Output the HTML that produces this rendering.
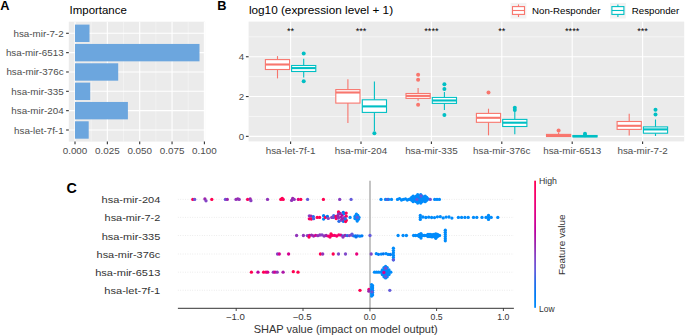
<!DOCTYPE html>
<html><head><meta charset="utf-8"><style>
html,body{margin:0;padding:0;background:#fff;width:685px;height:335px;overflow:hidden}
svg{display:block}
text{font-family:"Liberation Sans",sans-serif}
</style></head><body>
<svg width="685" height="335" viewBox="0 0 685 335">
<rect width="685" height="335" fill="#fff"/>
<text x="0.2" y="9.9" font-size="12.8" font-weight="bold" font-family="Liberation Sans, sans-serif" fill="#000">A</text>
<text x="69.6" y="14" font-size="11.5" font-family="Liberation Sans, sans-serif" fill="#000" textLength="57.2" lengthAdjust="spacingAndGlyphs">Importance</text>
<rect x="68.8" y="21.7" width="136.3" height="119.89999999999999" fill="#EBEBEB"/>
<line x1="91.17" y1="21.7" x2="91.17" y2="141.6" stroke="#fff" stroke-width="0.5" stroke-opacity="0.75"/>
<line x1="123.53" y1="21.7" x2="123.53" y2="141.6" stroke="#fff" stroke-width="0.5" stroke-opacity="0.75"/>
<line x1="155.88" y1="21.7" x2="155.88" y2="141.6" stroke="#fff" stroke-width="0.5" stroke-opacity="0.75"/>
<line x1="188.23" y1="21.7" x2="188.23" y2="141.6" stroke="#fff" stroke-width="0.5" stroke-opacity="0.75"/>
<line x1="75.00" y1="21.7" x2="75.00" y2="141.6" stroke="#fff" stroke-width="1.1"/>
<line x1="107.35" y1="21.7" x2="107.35" y2="141.6" stroke="#fff" stroke-width="1.1"/>
<line x1="139.70" y1="21.7" x2="139.70" y2="141.6" stroke="#fff" stroke-width="1.1"/>
<line x1="172.05" y1="21.7" x2="172.05" y2="141.6" stroke="#fff" stroke-width="1.1"/>
<line x1="204.40" y1="21.7" x2="204.40" y2="141.6" stroke="#fff" stroke-width="1.1"/>
<line x1="68.8" y1="33.30" x2="205.1" y2="33.30" stroke="#fff" stroke-width="1.1"/>
<line x1="68.8" y1="52.64" x2="205.1" y2="52.64" stroke="#fff" stroke-width="1.1"/>
<line x1="68.8" y1="71.98" x2="205.1" y2="71.98" stroke="#fff" stroke-width="1.1"/>
<line x1="68.8" y1="91.32" x2="205.1" y2="91.32" stroke="#fff" stroke-width="1.1"/>
<line x1="68.8" y1="110.66" x2="205.1" y2="110.66" stroke="#fff" stroke-width="1.1"/>
<line x1="68.8" y1="130.00" x2="205.1" y2="130.00" stroke="#fff" stroke-width="1.1"/>
<rect x="75.0" y="24.60" width="14.50" height="17.40" fill="#6CA6DE"/>
<line x1="66.1" y1="33.30" x2="68.8" y2="33.30" stroke="#333" stroke-width="1.1"/>
<text x="63.6" y="36.80" font-size="9.8" font-family="Liberation Sans, sans-serif" fill="#4D4D4D" text-anchor="end">hsa-mir-7-2</text>
<rect x="75.0" y="43.94" width="124.50" height="17.40" fill="#6CA6DE"/>
<line x1="66.1" y1="52.64" x2="68.8" y2="52.64" stroke="#333" stroke-width="1.1"/>
<text x="63.6" y="56.14" font-size="9.8" font-family="Liberation Sans, sans-serif" fill="#4D4D4D" text-anchor="end">hsa-mir-6513</text>
<rect x="75.0" y="63.28" width="43.20" height="17.40" fill="#6CA6DE"/>
<line x1="66.1" y1="71.98" x2="68.8" y2="71.98" stroke="#333" stroke-width="1.1"/>
<text x="63.6" y="75.48" font-size="9.8" font-family="Liberation Sans, sans-serif" fill="#4D4D4D" text-anchor="end">hsa-mir-376c</text>
<rect x="75.0" y="82.62" width="15.20" height="17.40" fill="#6CA6DE"/>
<line x1="66.1" y1="91.32" x2="68.8" y2="91.32" stroke="#333" stroke-width="1.1"/>
<text x="63.6" y="94.82" font-size="9.8" font-family="Liberation Sans, sans-serif" fill="#4D4D4D" text-anchor="end">hsa-mir-335</text>
<rect x="75.0" y="101.96" width="52.90" height="17.40" fill="#6CA6DE"/>
<line x1="66.1" y1="110.66" x2="68.8" y2="110.66" stroke="#333" stroke-width="1.1"/>
<text x="63.6" y="114.16" font-size="9.8" font-family="Liberation Sans, sans-serif" fill="#4D4D4D" text-anchor="end">hsa-mir-204</text>
<rect x="75.0" y="121.29" width="13.70" height="17.40" fill="#6CA6DE"/>
<line x1="66.1" y1="130.00" x2="68.8" y2="130.00" stroke="#333" stroke-width="1.1"/>
<text x="63.6" y="133.50" font-size="9.8" font-family="Liberation Sans, sans-serif" fill="#4D4D4D" text-anchor="end">hsa-let-7f-1</text>
<line x1="75.00" y1="141.6" x2="75.00" y2="144.29999999999998" stroke="#333" stroke-width="1.1"/>
<text x="75.00" y="153.9" font-size="9.85" font-family="Liberation Sans, sans-serif" fill="#4D4D4D" text-anchor="middle">0.000</text>
<line x1="107.35" y1="141.6" x2="107.35" y2="144.29999999999998" stroke="#333" stroke-width="1.1"/>
<text x="107.35" y="153.9" font-size="9.85" font-family="Liberation Sans, sans-serif" fill="#4D4D4D" text-anchor="middle">0.025</text>
<line x1="139.70" y1="141.6" x2="139.70" y2="144.29999999999998" stroke="#333" stroke-width="1.1"/>
<text x="139.70" y="153.9" font-size="9.85" font-family="Liberation Sans, sans-serif" fill="#4D4D4D" text-anchor="middle">0.050</text>
<line x1="172.05" y1="141.6" x2="172.05" y2="144.29999999999998" stroke="#333" stroke-width="1.1"/>
<text x="172.05" y="153.9" font-size="9.85" font-family="Liberation Sans, sans-serif" fill="#4D4D4D" text-anchor="middle">0.075</text>
<line x1="204.40" y1="141.6" x2="204.40" y2="144.29999999999998" stroke="#333" stroke-width="1.1"/>
<text x="204.40" y="153.9" font-size="9.85" font-family="Liberation Sans, sans-serif" fill="#4D4D4D" text-anchor="middle">0.100</text>
<text x="217.3" y="9.9" font-size="12.8" font-weight="bold" font-family="Liberation Sans, sans-serif" fill="#000">B</text>
<text x="248.9" y="14" font-size="11.75" font-family="Liberation Sans, sans-serif" fill="#000" textLength="144.2" lengthAdjust="spacingAndGlyphs">log10 (expression level + 1)</text>
<rect x="510.6" y="2.9" width="15.8" height="15.6" fill="#F2F2F2"/>
<line x1="518.5" y1="4.4" x2="518.5" y2="17.0" stroke="#F8766D" stroke-width="1.1"/>
<rect x="512.50" y="6.6" width="12.0" height="7.8" fill="#fff" stroke="#F8766D" stroke-width="1.1"/>
<line x1="512.50" y1="10.5" x2="524.50" y2="10.5" stroke="#F8766D" stroke-width="1.1"/>
<text x="532.1" y="13.9" font-size="9.7" font-family="Liberation Sans, sans-serif" fill="#000">Non-Responder</text>
<rect x="610.0" y="2.9" width="15.8" height="15.6" fill="#F2F2F2"/>
<line x1="617.9" y1="4.4" x2="617.9" y2="17.0" stroke="#00BFC4" stroke-width="1.1"/>
<rect x="611.90" y="6.6" width="12.0" height="7.8" fill="#fff" stroke="#00BFC4" stroke-width="1.1"/>
<line x1="611.90" y1="10.5" x2="623.90" y2="10.5" stroke="#00BFC4" stroke-width="1.1"/>
<text x="631.8" y="13.9" font-size="9.7" font-family="Liberation Sans, sans-serif" fill="#000">Responder</text>
<rect x="248.6" y="21.6" width="435.6" height="119.80000000000001" fill="#EBEBEB"/>
<line x1="248.6" y1="116.44999999999999" x2="684.2" y2="116.44999999999999" stroke="#fff" stroke-width="0.55"/>
<line x1="248.6" y1="76.65" x2="684.2" y2="76.65" stroke="#fff" stroke-width="0.55"/>
<line x1="248.6" y1="36.849999999999994" x2="684.2" y2="36.849999999999994" stroke="#fff" stroke-width="0.55"/>
<line x1="248.6" y1="136.35" x2="684.2" y2="136.35" stroke="#fff" stroke-width="1.1"/>
<line x1="245.9" y1="136.35" x2="248.6" y2="136.35" stroke="#333" stroke-width="1.1"/>
<text x="244.2" y="139.85" font-size="9.7" font-family="Liberation Sans, sans-serif" fill="#4D4D4D" text-anchor="end">0</text>
<line x1="248.6" y1="96.55" x2="684.2" y2="96.55" stroke="#fff" stroke-width="1.1"/>
<line x1="245.9" y1="96.55" x2="248.6" y2="96.55" stroke="#333" stroke-width="1.1"/>
<text x="244.2" y="100.05" font-size="9.7" font-family="Liberation Sans, sans-serif" fill="#4D4D4D" text-anchor="end">2</text>
<line x1="248.6" y1="56.75" x2="684.2" y2="56.75" stroke="#fff" stroke-width="1.1"/>
<line x1="245.9" y1="56.75" x2="248.6" y2="56.75" stroke="#333" stroke-width="1.1"/>
<text x="244.2" y="60.25" font-size="9.7" font-family="Liberation Sans, sans-serif" fill="#4D4D4D" text-anchor="end">4</text>
<line x1="290.60" y1="21.6" x2="290.60" y2="141.4" stroke="#fff" stroke-width="1.1"/>
<line x1="361.00" y1="21.6" x2="361.00" y2="141.4" stroke="#fff" stroke-width="1.1"/>
<line x1="431.40" y1="21.6" x2="431.40" y2="141.4" stroke="#fff" stroke-width="1.1"/>
<line x1="501.80" y1="21.6" x2="501.80" y2="141.4" stroke="#fff" stroke-width="1.1"/>
<line x1="572.20" y1="21.6" x2="572.20" y2="141.4" stroke="#fff" stroke-width="1.1"/>
<line x1="642.60" y1="21.6" x2="642.60" y2="141.4" stroke="#fff" stroke-width="1.1"/>
<line x1="290.60" y1="141.4" x2="290.60" y2="144.1" stroke="#333" stroke-width="1.1"/>
<text x="290.60" y="153.8" font-size="9.85" font-family="Liberation Sans, sans-serif" fill="#4D4D4D" text-anchor="middle">hsa-let-7f-1</text>
<text x="290.60" y="34.2" font-size="9.2" font-family="Liberation Sans, sans-serif" fill="#000" text-anchor="middle">**</text>
<line x1="361.00" y1="141.4" x2="361.00" y2="144.1" stroke="#333" stroke-width="1.1"/>
<text x="361.00" y="153.8" font-size="9.85" font-family="Liberation Sans, sans-serif" fill="#4D4D4D" text-anchor="middle">hsa-mir-204</text>
<text x="361.00" y="34.2" font-size="9.2" font-family="Liberation Sans, sans-serif" fill="#000" text-anchor="middle">***</text>
<line x1="431.40" y1="141.4" x2="431.40" y2="144.1" stroke="#333" stroke-width="1.1"/>
<text x="431.40" y="153.8" font-size="9.85" font-family="Liberation Sans, sans-serif" fill="#4D4D4D" text-anchor="middle">hsa-mir-335</text>
<text x="431.40" y="34.2" font-size="9.2" font-family="Liberation Sans, sans-serif" fill="#000" text-anchor="middle">****</text>
<line x1="501.80" y1="141.4" x2="501.80" y2="144.1" stroke="#333" stroke-width="1.1"/>
<text x="501.80" y="153.8" font-size="9.85" font-family="Liberation Sans, sans-serif" fill="#4D4D4D" text-anchor="middle">hsa-mir-376c</text>
<text x="501.80" y="34.2" font-size="9.2" font-family="Liberation Sans, sans-serif" fill="#000" text-anchor="middle">**</text>
<line x1="572.20" y1="141.4" x2="572.20" y2="144.1" stroke="#333" stroke-width="1.1"/>
<text x="572.20" y="153.8" font-size="9.85" font-family="Liberation Sans, sans-serif" fill="#4D4D4D" text-anchor="middle">hsa-mir-6513</text>
<text x="572.20" y="34.2" font-size="9.2" font-family="Liberation Sans, sans-serif" fill="#000" text-anchor="middle">****</text>
<line x1="642.60" y1="141.4" x2="642.60" y2="144.1" stroke="#333" stroke-width="1.1"/>
<text x="642.60" y="153.8" font-size="9.85" font-family="Liberation Sans, sans-serif" fill="#4D4D4D" text-anchor="middle">hsa-mir-7-2</text>
<text x="642.60" y="34.2" font-size="9.2" font-family="Liberation Sans, sans-serif" fill="#000" text-anchor="middle">***</text>
<line x1="277.5" y1="56.1" x2="277.5" y2="59.6" stroke="#F8766D" stroke-width="1.1"/>
<line x1="277.5" y1="69.5" x2="277.5" y2="78.4" stroke="#F8766D" stroke-width="1.1"/>
<rect x="265.40" y="59.6" width="24.2" height="9.90" fill="#fff" stroke="#F8766D" stroke-width="1.1"/>
<line x1="265.40" y1="64.5" x2="289.60" y2="64.5" stroke="#F8766D" stroke-width="2.1"/>
<line x1="347.9" y1="79.3" x2="347.9" y2="89.6" stroke="#F8766D" stroke-width="1.1"/>
<line x1="347.9" y1="103.1" x2="347.9" y2="122.9" stroke="#F8766D" stroke-width="1.1"/>
<rect x="335.80" y="89.6" width="24.2" height="13.50" fill="#fff" stroke="#F8766D" stroke-width="1.1"/>
<line x1="335.80" y1="92.5" x2="360.00" y2="92.5" stroke="#F8766D" stroke-width="2.1"/>
<line x1="418.1" y1="88.1" x2="418.1" y2="93.5" stroke="#F8766D" stroke-width="1.1"/>
<line x1="418.1" y1="98.4" x2="418.1" y2="100.7" stroke="#F8766D" stroke-width="1.1"/>
<rect x="406.00" y="93.5" width="24.2" height="4.90" fill="#fff" stroke="#F8766D" stroke-width="1.1"/>
<line x1="406.00" y1="95.9" x2="430.20" y2="95.9" stroke="#F8766D" stroke-width="2.1"/>
<circle cx="418.1" cy="74.7" r="2" fill="#F8766D"/>
<circle cx="418.1" cy="79.8" r="2" fill="#F8766D"/>
<circle cx="418.1" cy="104.8" r="2" fill="#F8766D"/>
<line x1="488.5" y1="108.7" x2="488.5" y2="113.4" stroke="#F8766D" stroke-width="1.1"/>
<line x1="488.5" y1="122.3" x2="488.5" y2="135.3" stroke="#F8766D" stroke-width="1.1"/>
<rect x="476.40" y="113.4" width="24.2" height="8.90" fill="#fff" stroke="#F8766D" stroke-width="1.1"/>
<line x1="476.40" y1="117.8" x2="500.60" y2="117.8" stroke="#F8766D" stroke-width="2.1"/>
<circle cx="488.5" cy="92.4" r="2" fill="#F8766D"/>
<line x1="558.6" y1="132.4" x2="558.6" y2="134.4" stroke="#F8766D" stroke-width="1.1"/>
<line x1="558.6" y1="136.5" x2="558.6" y2="136.8" stroke="#F8766D" stroke-width="1.1"/>
<rect x="546.50" y="134.4" width="24.2" height="2.10" fill="#fff" stroke="#F8766D" stroke-width="1.1"/>
<line x1="546.50" y1="135.5" x2="570.70" y2="135.5" stroke="#F8766D" stroke-width="2.1"/>
<circle cx="558.6" cy="130.6" r="2" fill="#F8766D"/>
<line x1="629.2" y1="113.8" x2="629.2" y2="121.5" stroke="#F8766D" stroke-width="1.1"/>
<line x1="629.2" y1="129.4" x2="629.2" y2="135.6" stroke="#F8766D" stroke-width="1.1"/>
<rect x="617.10" y="121.5" width="24.2" height="7.90" fill="#fff" stroke="#F8766D" stroke-width="1.1"/>
<line x1="617.10" y1="125.8" x2="641.30" y2="125.8" stroke="#F8766D" stroke-width="2.1"/>
<line x1="303.7" y1="58.7" x2="303.7" y2="65.5" stroke="#00BFC4" stroke-width="1.1"/>
<line x1="303.7" y1="71.5" x2="303.7" y2="77.5" stroke="#00BFC4" stroke-width="1.1"/>
<rect x="291.60" y="65.5" width="24.2" height="6.00" fill="#fff" stroke="#00BFC4" stroke-width="1.1"/>
<line x1="291.60" y1="68.1" x2="315.80" y2="68.1" stroke="#00BFC4" stroke-width="2.1"/>
<circle cx="303.7" cy="53.6" r="2" fill="#00BFC4"/>
<circle cx="303.7" cy="81.2" r="2" fill="#00BFC4"/>
<line x1="374.4" y1="81.4" x2="374.4" y2="99.8" stroke="#00BFC4" stroke-width="1.1"/>
<line x1="374.4" y1="112.4" x2="374.4" y2="131.3" stroke="#00BFC4" stroke-width="1.1"/>
<rect x="362.30" y="99.8" width="24.2" height="12.60" fill="#fff" stroke="#00BFC4" stroke-width="1.1"/>
<line x1="362.30" y1="106.4" x2="386.50" y2="106.4" stroke="#00BFC4" stroke-width="2.1"/>
<circle cx="374.4" cy="133.2" r="2" fill="#00BFC4"/>
<line x1="444.4" y1="92.0" x2="444.4" y2="97.4" stroke="#00BFC4" stroke-width="1.1"/>
<line x1="444.4" y1="103.4" x2="444.4" y2="110.0" stroke="#00BFC4" stroke-width="1.1"/>
<rect x="432.30" y="97.4" width="24.2" height="6.00" fill="#fff" stroke="#00BFC4" stroke-width="1.1"/>
<line x1="432.30" y1="100.5" x2="456.50" y2="100.5" stroke="#00BFC4" stroke-width="2.1"/>
<circle cx="444.4" cy="84.2" r="2" fill="#00BFC4"/>
<circle cx="444.4" cy="89.1" r="2" fill="#00BFC4"/>
<circle cx="444.4" cy="115.1" r="2" fill="#00BFC4"/>
<line x1="514.8" y1="111.0" x2="514.8" y2="119.4" stroke="#00BFC4" stroke-width="1.1"/>
<line x1="514.8" y1="126.5" x2="514.8" y2="134.3" stroke="#00BFC4" stroke-width="1.1"/>
<rect x="502.70" y="119.4" width="24.2" height="7.10" fill="#fff" stroke="#00BFC4" stroke-width="1.1"/>
<line x1="502.70" y1="122.7" x2="526.90" y2="122.7" stroke="#00BFC4" stroke-width="2.1"/>
<circle cx="514.8" cy="107.7" r="2" fill="#00BFC4"/>
<circle cx="514.8" cy="110.0" r="2" fill="#00BFC4"/>
<line x1="585.0" y1="134.6" x2="585.0" y2="135.5" stroke="#00BFC4" stroke-width="1.1"/>
<line x1="585.0" y1="136.9" x2="585.0" y2="137.1" stroke="#00BFC4" stroke-width="1.1"/>
<rect x="572.90" y="135.5" width="24.2" height="1.40" fill="#fff" stroke="#00BFC4" stroke-width="1.1"/>
<line x1="572.90" y1="136.2" x2="597.10" y2="136.2" stroke="#00BFC4" stroke-width="2.1"/>
<circle cx="585.0" cy="133.8" r="2" fill="#00BFC4"/>
<circle cx="585.0" cy="135.3" r="2" fill="#00BFC4"/>
<line x1="655.5" y1="119.5" x2="655.5" y2="126.9" stroke="#00BFC4" stroke-width="1.1"/>
<line x1="655.5" y1="133.2" x2="655.5" y2="136.0" stroke="#00BFC4" stroke-width="1.1"/>
<rect x="643.40" y="126.9" width="24.2" height="6.30" fill="#fff" stroke="#00BFC4" stroke-width="1.1"/>
<line x1="643.40" y1="129.4" x2="667.60" y2="129.4" stroke="#00BFC4" stroke-width="2.1"/>
<circle cx="655.5" cy="109.7" r="2" fill="#00BFC4"/>
<circle cx="655.5" cy="114.6" r="2" fill="#00BFC4"/>
<text x="66.6" y="192.6" font-size="14.3" font-weight="bold" font-family="Liberation Sans, sans-serif" fill="#000">C</text>
<line x1="177.9" y1="199.4" x2="514" y2="199.4" stroke="#dedede" stroke-width="0.7" stroke-dasharray="0.8,1.6"/>
<text x="160.3" y="203.10" font-size="9.8" font-family="Liberation Sans, sans-serif" fill="#333" text-anchor="end" textLength="58.8" lengthAdjust="spacingAndGlyphs">hsa-mir-204</text>
<line x1="177.9" y1="217.4" x2="514" y2="217.4" stroke="#dedede" stroke-width="0.7" stroke-dasharray="0.8,1.6"/>
<text x="160.3" y="221.34" font-size="9.8" font-family="Liberation Sans, sans-serif" fill="#333" text-anchor="end" textLength="55.7" lengthAdjust="spacingAndGlyphs">hsa-mir-7-2</text>
<line x1="177.9" y1="235.5" x2="514" y2="235.5" stroke="#dedede" stroke-width="0.7" stroke-dasharray="0.8,1.6"/>
<text x="160.3" y="239.58" font-size="9.8" font-family="Liberation Sans, sans-serif" fill="#333" text-anchor="end" textLength="58.6" lengthAdjust="spacingAndGlyphs">hsa-mir-335</text>
<line x1="177.9" y1="254.0" x2="514" y2="254.0" stroke="#dedede" stroke-width="0.7" stroke-dasharray="0.8,1.6"/>
<text x="160.3" y="257.82" font-size="9.8" font-family="Liberation Sans, sans-serif" fill="#333" text-anchor="end" textLength="63.7" lengthAdjust="spacingAndGlyphs">hsa-mir-376c</text>
<line x1="177.9" y1="272.2" x2="514" y2="272.2" stroke="#dedede" stroke-width="0.7" stroke-dasharray="0.8,1.6"/>
<text x="160.3" y="276.06" font-size="9.8" font-family="Liberation Sans, sans-serif" fill="#333" text-anchor="end" textLength="65.1" lengthAdjust="spacingAndGlyphs">hsa-mir-6513</text>
<line x1="177.9" y1="290.3" x2="514" y2="290.3" stroke="#dedede" stroke-width="0.7" stroke-dasharray="0.8,1.6"/>
<text x="160.3" y="294.30" font-size="9.8" font-family="Liberation Sans, sans-serif" fill="#333" text-anchor="end" textLength="56.0" lengthAdjust="spacingAndGlyphs">hsa-let-7f-1</text>
<line x1="236.2" y1="308.2" x2="236.2" y2="311" stroke="#333" stroke-width="0.9"/>
<text x="235.3" y="320.1" font-size="8.7" font-family="Liberation Sans, sans-serif" fill="#333" text-anchor="middle" textLength="19.0" lengthAdjust="spacingAndGlyphs">−1.0</text>
<line x1="303.0" y1="308.2" x2="303.0" y2="311" stroke="#333" stroke-width="0.9"/>
<text x="302.1" y="320.1" font-size="8.7" font-family="Liberation Sans, sans-serif" fill="#333" text-anchor="middle" textLength="19.0" lengthAdjust="spacingAndGlyphs">−0.5</text>
<line x1="369.8" y1="308.2" x2="369.8" y2="311" stroke="#333" stroke-width="0.9"/>
<text x="369.8" y="320.1" font-size="8.7" font-family="Liberation Sans, sans-serif" fill="#333" text-anchor="middle">0.0</text>
<line x1="436.6" y1="308.2" x2="436.6" y2="311" stroke="#333" stroke-width="0.9"/>
<text x="436.6" y="320.1" font-size="8.7" font-family="Liberation Sans, sans-serif" fill="#333" text-anchor="middle">0.5</text>
<line x1="503.4" y1="308.2" x2="503.4" y2="311" stroke="#333" stroke-width="0.9"/>
<text x="503.4" y="320.1" font-size="8.7" font-family="Liberation Sans, sans-serif" fill="#333" text-anchor="middle">1.0</text>
<line x1="370" y1="180.8" x2="370" y2="311.4" stroke="#b0b0b0" stroke-width="1.5"/>
<line x1="177.9" y1="308.3" x2="513.9" y2="308.3" stroke="#333" stroke-width="1"/>
<text x="253.7" y="332.8" font-size="10.3" font-family="Liberation Sans, sans-serif" fill="#333" textLength="184" lengthAdjust="spacingAndGlyphs">SHAP value (impact on model output)</text>
<defs><linearGradient id="cb" x1="0" y1="1" x2="0" y2="0"><stop offset="0.00" stop-color="#008bfb"/><stop offset="0.10" stop-color="#007cf5"/><stop offset="0.20" stop-color="#246cea"/><stop offset="0.30" stop-color="#635adb"/><stop offset="0.40" stop-color="#8443c6"/><stop offset="0.50" stop-color="#9b24ad"/><stop offset="0.60" stop-color="#bb00a0"/><stop offset="0.70" stop-color="#d5008f"/><stop offset="0.80" stop-color="#e9007c"/><stop offset="0.90" stop-color="#f90067"/><stop offset="1.00" stop-color="#ff0051"/></linearGradient></defs>
<rect x="534.2" y="180.7" width="1.8" height="127.1" fill="url(#cb)"/>
<text x="539.0" y="184.4" font-size="8.3" font-family="Liberation Sans, sans-serif" fill="#333" textLength="18.0" lengthAdjust="spacingAndGlyphs">High</text>
<text x="539.0" y="312.1" font-size="8.3" font-family="Liberation Sans, sans-serif" fill="#333" textLength="15.6" lengthAdjust="spacingAndGlyphs">Low</text>
<text transform="translate(564.9,244.7) rotate(-90)" font-size="9.6" font-family="Liberation Sans, sans-serif" fill="#333" text-anchor="middle" textLength="60.6" lengthAdjust="spacingAndGlyphs">Feature value</text>
<circle cx="192.8" cy="199.4" r="1.65" fill="#ff0051"/>
<circle cx="194.7" cy="199.4" r="1.65" fill="#6b55d7"/>
<circle cx="204.9" cy="198.9" r="1.65" fill="#9b24ad"/>
<circle cx="206.0" cy="200.8" r="1.65" fill="#8443c6"/>
<circle cx="211.8" cy="199.4" r="1.65" fill="#ff0051"/>
<circle cx="225.4" cy="199.4" r="1.65" fill="#6b55d7"/>
<circle cx="227.3" cy="199.4" r="1.65" fill="#9b24ad"/>
<circle cx="236.0" cy="199.4" r="1.65" fill="#9135ba"/>
<circle cx="237.8" cy="198.8" r="1.65" fill="#9b24ad"/>
<circle cx="239.2" cy="199.4" r="1.65" fill="#9135ba"/>
<circle cx="247.6" cy="199.4" r="1.65" fill="#fe005c"/>
<circle cx="250.2" cy="198.9" r="1.65" fill="#9b24ad"/>
<circle cx="250.9" cy="200.7" r="1.65" fill="#8a3ec1"/>
<circle cx="267.5" cy="199.4" r="1.65" fill="#9135ba"/>
<circle cx="280.8" cy="199.4" r="1.65" fill="#ff0051"/>
<circle cx="282.2" cy="198.5" r="1.65" fill="#ff0051"/>
<circle cx="283.2" cy="199.4" r="1.65" fill="#fe005c"/>
<circle cx="291.6" cy="200.4" r="1.65" fill="#9135ba"/>
<circle cx="292.7" cy="198.4" r="1.65" fill="#9b24ad"/>
<circle cx="294.2" cy="199.4" r="1.65" fill="#9135ba"/>
<circle cx="298.3" cy="199.4" r="1.65" fill="#e00086"/>
<circle cx="300.8" cy="199.4" r="1.65" fill="#ff0051"/>
<circle cx="307.6" cy="199.4" r="1.65" fill="#635adb"/>
<circle cx="323.4" cy="199.4" r="1.65" fill="#ff0051"/>
<circle cx="339.7" cy="199.4" r="1.65" fill="#8a3ec1"/>
<circle cx="351.1" cy="199.4" r="1.65" fill="#635adb"/>
<circle cx="381.0" cy="199.4" r="1.65" fill="#008bfb"/>
<circle cx="385.5" cy="199.4" r="1.65" fill="#008bfb"/>
<circle cx="388.6" cy="199.4" r="1.65" fill="#008bfb"/>
<circle cx="391.5" cy="199.4" r="1.65" fill="#008bfb"/>
<circle cx="397.5" cy="199.4" r="1.65" fill="#008bfb"/>
<circle cx="399.5" cy="198.6" r="1.65" fill="#008bfb"/>
<circle cx="401.5" cy="200.0" r="1.65" fill="#008bfb"/>
<circle cx="403.4" cy="199.4" r="1.65" fill="#008bfb"/>
<circle cx="405.5" cy="198.9" r="1.65" fill="#008bfb"/>
<circle cx="407.3" cy="200.0" r="1.65" fill="#008bfb"/>
<circle cx="409.0" cy="199.4" r="1.65" fill="#008bfb"/>
<circle cx="387.1" cy="199.4" r="1.65" fill="#4b63e3"/>
<circle cx="410.2" cy="198.9" r="1.65" fill="#008bfb"/>
<circle cx="411.7" cy="197.5" r="1.65" fill="#008bfb"/>
<circle cx="411.7" cy="200.3" r="1.65" fill="#008bfb"/>
<circle cx="413.2" cy="196.1" r="1.65" fill="#008bfb"/>
<circle cx="413.2" cy="198.9" r="1.65" fill="#008bfb"/>
<circle cx="413.2" cy="201.7" r="1.65" fill="#008bfb"/>
<circle cx="414.7" cy="197.5" r="1.65" fill="#008bfb"/>
<circle cx="414.7" cy="200.3" r="1.65" fill="#008bfb"/>
<circle cx="416.2" cy="196.1" r="1.65" fill="#008bfb"/>
<circle cx="416.2" cy="198.9" r="1.65" fill="#008bfb"/>
<circle cx="416.2" cy="201.7" r="1.65" fill="#008bfb"/>
<circle cx="417.7" cy="194.7" r="1.65" fill="#008bfb"/>
<circle cx="417.7" cy="197.5" r="1.65" fill="#008bfb"/>
<circle cx="417.7" cy="200.3" r="1.65" fill="#008bfb"/>
<circle cx="417.7" cy="203.1" r="1.65" fill="#008bfb"/>
<circle cx="419.2" cy="196.1" r="1.65" fill="#008bfb"/>
<circle cx="419.2" cy="198.9" r="1.65" fill="#008bfb"/>
<circle cx="419.2" cy="201.7" r="1.65" fill="#008bfb"/>
<circle cx="420.7" cy="194.7" r="1.65" fill="#008bfb"/>
<circle cx="420.7" cy="197.5" r="1.65" fill="#008bfb"/>
<circle cx="420.7" cy="200.3" r="1.65" fill="#008bfb"/>
<circle cx="420.7" cy="203.1" r="1.65" fill="#008bfb"/>
<circle cx="422.2" cy="196.1" r="1.65" fill="#008bfb"/>
<circle cx="422.2" cy="198.9" r="1.65" fill="#008bfb"/>
<circle cx="422.2" cy="201.7" r="1.65" fill="#008bfb"/>
<circle cx="423.7" cy="197.5" r="1.65" fill="#008bfb"/>
<circle cx="423.7" cy="200.3" r="1.65" fill="#008bfb"/>
<circle cx="425.2" cy="196.1" r="1.65" fill="#008bfb"/>
<circle cx="425.2" cy="198.9" r="1.65" fill="#008bfb"/>
<circle cx="425.2" cy="201.7" r="1.65" fill="#008bfb"/>
<circle cx="426.7" cy="197.5" r="1.65" fill="#008bfb"/>
<circle cx="426.7" cy="200.3" r="1.65" fill="#008bfb"/>
<circle cx="428.2" cy="198.9" r="1.65" fill="#008bfb"/>
<circle cx="416.9" cy="199.4" r="1.65" fill="#635adb"/>
<circle cx="421.0" cy="196.0" r="1.65" fill="#635adb"/>
<circle cx="430.3" cy="199.4" r="1.65" fill="#754fd1"/>
<circle cx="434.7" cy="199.4" r="1.65" fill="#008bfb"/>
<circle cx="437.0" cy="199.4" r="1.65" fill="#008bfb"/>
<circle cx="439.4" cy="199.4" r="1.65" fill="#008bfb"/>
<circle cx="309.3" cy="215.8" r="1.65" fill="#8443c6"/>
<circle cx="309.3" cy="218.8" r="1.65" fill="#f90067"/>
<circle cx="311.0" cy="216.2" r="1.65" fill="#9b24ad"/>
<circle cx="311.3" cy="219.0" r="1.65" fill="#ff0051"/>
<circle cx="313.3" cy="216.6" r="1.65" fill="#246cea"/>
<circle cx="313.6" cy="218.7" r="1.65" fill="#4b63e3"/>
<circle cx="317.2" cy="217.4" r="1.65" fill="#ff0051"/>
<circle cx="319.6" cy="217.4" r="1.65" fill="#ff0051"/>
<circle cx="323.6" cy="215.7" r="1.65" fill="#0084f9"/>
<circle cx="323.6" cy="219.1" r="1.65" fill="#0084f9"/>
<circle cx="325.4" cy="217.4" r="1.65" fill="#ff0051"/>
<circle cx="327.4" cy="216.4" r="1.65" fill="#0075f0"/>
<circle cx="328.3" cy="218.4" r="1.65" fill="#8443c6"/>
<circle cx="331.8" cy="217.4" r="1.65" fill="#9135ba"/>
<circle cx="333.4" cy="217.4" r="1.65" fill="#007cf5"/>
<circle cx="332.3" cy="217.4" r="1.65" fill="#8443c6"/>
<circle cx="333.7" cy="215.7" r="1.65" fill="#4b63e3"/>
<circle cx="336.0" cy="216.5" r="1.65" fill="#ff0051"/>
<circle cx="336.2" cy="218.6" r="1.65" fill="#f90067"/>
<circle cx="338.5" cy="212.0" r="1.65" fill="#ff0051"/>
<circle cx="338.5" cy="214.2" r="1.65" fill="#9135ba"/>
<circle cx="338.5" cy="218.0" r="1.65" fill="#9135ba"/>
<circle cx="337.8" cy="216.2" r="1.65" fill="#9b24ad"/>
<circle cx="339.0" cy="221.3" r="1.65" fill="#246cea"/>
<circle cx="341.0" cy="217.1" r="1.65" fill="#ac16a7"/>
<circle cx="342.2" cy="215.1" r="1.65" fill="#bb00a0"/>
<circle cx="343.3" cy="212.3" r="1.65" fill="#0075f0"/>
<circle cx="343.3" cy="221.3" r="1.65" fill="#007cf5"/>
<circle cx="344.2" cy="213.7" r="1.65" fill="#0084f9"/>
<circle cx="344.2" cy="217.6" r="1.65" fill="#8443c6"/>
<circle cx="341.3" cy="220.2" r="1.65" fill="#8443c6"/>
<circle cx="340.2" cy="213.5" r="1.65" fill="#9b24ad"/>
<circle cx="346.2" cy="213.1" r="1.65" fill="#fe005c"/>
<circle cx="346.2" cy="216.2" r="1.65" fill="#f90067"/>
<circle cx="346.2" cy="220.2" r="1.65" fill="#ff0051"/>
<circle cx="345.6" cy="221.6" r="1.65" fill="#ff0051"/>
<circle cx="345.2" cy="218.8" r="1.65" fill="#246cea"/>
<circle cx="342.5" cy="218.8" r="1.65" fill="#9b24ad"/>
<circle cx="350.1" cy="217.4" r="1.65" fill="#008bfb"/>
<circle cx="355.0" cy="216.5" r="1.65" fill="#008bfb"/>
<circle cx="356.4" cy="214.2" r="1.65" fill="#008bfb"/>
<circle cx="357.8" cy="215.4" r="1.65" fill="#008bfb"/>
<circle cx="359.0" cy="217.4" r="1.65" fill="#008bfb"/>
<circle cx="356.7" cy="219.3" r="1.65" fill="#008bfb"/>
<circle cx="357.2" cy="221.0" r="1.65" fill="#008bfb"/>
<circle cx="355.0" cy="218.5" r="1.65" fill="#008bfb"/>
<circle cx="358.4" cy="219.3" r="1.65" fill="#008bfb"/>
<circle cx="357.2" cy="217.4" r="1.65" fill="#635adb"/>
<circle cx="420.3" cy="215.4" r="1.65" fill="#008bfb"/>
<circle cx="420.3" cy="217.4" r="1.65" fill="#008bfb"/>
<circle cx="420.3" cy="219.4" r="1.65" fill="#008bfb"/>
<circle cx="422.9" cy="217.0" r="1.65" fill="#008bfb"/>
<circle cx="425.8" cy="217.5" r="1.65" fill="#008bfb"/>
<circle cx="428.7" cy="217.2" r="1.65" fill="#008bfb"/>
<circle cx="431.6" cy="217.5" r="1.65" fill="#008bfb"/>
<circle cx="434.5" cy="217.6" r="1.65" fill="#008bfb"/>
<circle cx="437.4" cy="216.8" r="1.65" fill="#008bfb"/>
<circle cx="440.3" cy="216.7" r="1.65" fill="#008bfb"/>
<circle cx="443.2" cy="217.9" r="1.65" fill="#008bfb"/>
<circle cx="446.1" cy="217.1" r="1.65" fill="#008bfb"/>
<circle cx="449.0" cy="217.0" r="1.65" fill="#008bfb"/>
<circle cx="451.9" cy="218.1" r="1.65" fill="#008bfb"/>
<circle cx="458.4" cy="217.4" r="1.65" fill="#008bfb"/>
<circle cx="461.6" cy="217.4" r="1.65" fill="#008bfb"/>
<circle cx="464.9" cy="217.4" r="1.65" fill="#008bfb"/>
<circle cx="468.2" cy="217.4" r="1.65" fill="#008bfb"/>
<circle cx="473.5" cy="217.4" r="1.65" fill="#008bfb"/>
<circle cx="476.8" cy="217.4" r="1.65" fill="#008bfb"/>
<circle cx="482.0" cy="217.4" r="1.65" fill="#008bfb"/>
<circle cx="486.0" cy="217.4" r="1.65" fill="#008bfb"/>
<circle cx="488.5" cy="217.4" r="1.65" fill="#008bfb"/>
<circle cx="491.2" cy="217.4" r="1.65" fill="#008bfb"/>
<circle cx="497.8" cy="217.4" r="1.65" fill="#008bfb"/>
<circle cx="488.5" cy="215.4" r="1.65" fill="#008bfb"/>
<circle cx="488.5" cy="219.4" r="1.65" fill="#008bfb"/>
<circle cx="296.6" cy="235.5" r="1.65" fill="#9135ba"/>
<circle cx="303.4" cy="235.5" r="1.65" fill="#9135ba"/>
<circle cx="307.3" cy="235.6" r="1.65" fill="#8443c6"/>
<circle cx="309.4" cy="235.5" r="1.65" fill="#d5008f"/>
<circle cx="311.5" cy="235.1" r="1.65" fill="#9b24ad"/>
<circle cx="313.6" cy="236.0" r="1.65" fill="#9b24ad"/>
<circle cx="315.7" cy="235.3" r="1.65" fill="#d5008f"/>
<circle cx="317.8" cy="235.7" r="1.65" fill="#9135ba"/>
<circle cx="319.9" cy="235.0" r="1.65" fill="#9135ba"/>
<circle cx="322.0" cy="234.9" r="1.65" fill="#8443c6"/>
<circle cx="324.1" cy="236.0" r="1.65" fill="#9135ba"/>
<circle cx="326.2" cy="235.5" r="1.65" fill="#9b24ad"/>
<circle cx="328.3" cy="236.1" r="1.65" fill="#f20072"/>
<circle cx="330.4" cy="235.8" r="1.65" fill="#fe005c"/>
<circle cx="332.5" cy="235.4" r="1.65" fill="#fe005c"/>
<circle cx="334.6" cy="235.4" r="1.65" fill="#f20072"/>
<circle cx="336.7" cy="236.0" r="1.65" fill="#f90067"/>
<circle cx="338.8" cy="234.9" r="1.65" fill="#f90067"/>
<circle cx="340.9" cy="235.1" r="1.65" fill="#e00086"/>
<circle cx="343.0" cy="235.9" r="1.65" fill="#246cea"/>
<circle cx="345.1" cy="235.4" r="1.65" fill="#9b24ad"/>
<circle cx="347.2" cy="235.6" r="1.65" fill="#246cea"/>
<circle cx="349.3" cy="235.6" r="1.65" fill="#8443c6"/>
<circle cx="351.4" cy="235.1" r="1.65" fill="#8443c6"/>
<circle cx="353.5" cy="235.8" r="1.65" fill="#246cea"/>
<circle cx="355.6" cy="236.0" r="1.65" fill="#007cf5"/>
<circle cx="357.7" cy="235.8" r="1.65" fill="#246cea"/>
<circle cx="359.8" cy="236.2" r="1.65" fill="#008bfb"/>
<circle cx="361.9" cy="235.8" r="1.65" fill="#007cf5"/>
<circle cx="309.0" cy="237.0" r="1.65" fill="#ff0051"/>
<circle cx="331.0" cy="234.0" r="1.65" fill="#ff0051"/>
<circle cx="330.0" cy="237.0" r="1.65" fill="#f90067"/>
<circle cx="343.0" cy="237.0" r="1.65" fill="#9135ba"/>
<circle cx="352.0" cy="234.1" r="1.65" fill="#635adb"/>
<circle cx="356.0" cy="236.9" r="1.65" fill="#0075f0"/>
<circle cx="370.0" cy="235.5" r="1.65" fill="#635adb"/>
<circle cx="398.1" cy="235.5" r="1.65" fill="#008bfb"/>
<circle cx="403.1" cy="235.5" r="1.65" fill="#008bfb"/>
<circle cx="406.4" cy="235.5" r="1.65" fill="#008bfb"/>
<circle cx="413.6" cy="235.5" r="1.65" fill="#008bfb"/>
<circle cx="415.5" cy="235.5" r="1.65" fill="#008bfb"/>
<circle cx="417.5" cy="235.5" r="1.65" fill="#008bfb"/>
<circle cx="419.3" cy="234.4" r="1.65" fill="#008bfb"/>
<circle cx="419.3" cy="236.6" r="1.65" fill="#008bfb"/>
<circle cx="421.0" cy="233.6" r="1.65" fill="#008bfb"/>
<circle cx="421.0" cy="235.8" r="1.65" fill="#008bfb"/>
<circle cx="421.0" cy="238.0" r="1.65" fill="#008bfb"/>
<circle cx="422.8" cy="235.5" r="1.65" fill="#008bfb"/>
<circle cx="424.5" cy="235.5" r="1.65" fill="#008bfb"/>
<circle cx="426.3" cy="235.5" r="1.65" fill="#008bfb"/>
<circle cx="428.0" cy="234.4" r="1.65" fill="#008bfb"/>
<circle cx="428.0" cy="236.6" r="1.65" fill="#008bfb"/>
<circle cx="430.0" cy="234.4" r="1.65" fill="#008bfb"/>
<circle cx="430.0" cy="236.6" r="1.65" fill="#008bfb"/>
<circle cx="432.0" cy="234.7" r="1.65" fill="#008bfb"/>
<circle cx="432.0" cy="236.9" r="1.65" fill="#008bfb"/>
<circle cx="434.0" cy="234.4" r="1.65" fill="#008bfb"/>
<circle cx="434.0" cy="236.6" r="1.65" fill="#008bfb"/>
<circle cx="435.8" cy="233.9" r="1.65" fill="#008bfb"/>
<circle cx="435.8" cy="236.1" r="1.65" fill="#008bfb"/>
<circle cx="435.8" cy="238.3" r="1.65" fill="#008bfb"/>
<circle cx="437.5" cy="234.4" r="1.65" fill="#008bfb"/>
<circle cx="437.5" cy="236.6" r="1.65" fill="#008bfb"/>
<circle cx="439.5" cy="235.5" r="1.65" fill="#008bfb"/>
<circle cx="445.3" cy="230.2" r="1.65" fill="#008bfb"/>
<circle cx="445.3" cy="232.3" r="1.65" fill="#008bfb"/>
<circle cx="445.3" cy="234.4" r="1.65" fill="#008bfb"/>
<circle cx="445.3" cy="236.6" r="1.65" fill="#008bfb"/>
<circle cx="445.3" cy="238.7" r="1.65" fill="#008bfb"/>
<circle cx="445.3" cy="240.8" r="1.65" fill="#008bfb"/>
<circle cx="277.5" cy="254.0" r="1.65" fill="#8443c6"/>
<circle cx="279.3" cy="254.0" r="1.65" fill="#d5008f"/>
<circle cx="288.6" cy="254.0" r="1.65" fill="#d5008f"/>
<circle cx="320.4" cy="254.0" r="1.65" fill="#ff0051"/>
<circle cx="322.7" cy="254.0" r="1.65" fill="#9135ba"/>
<circle cx="333.2" cy="254.0" r="1.65" fill="#ff0051"/>
<circle cx="338.5" cy="254.0" r="1.65" fill="#7f48ca"/>
<circle cx="345.5" cy="254.0" r="1.65" fill="#7f48ca"/>
<circle cx="356.7" cy="254.0" r="1.65" fill="#e9007c"/>
<circle cx="371.2" cy="254.0" r="1.65" fill="#7f48ca"/>
<circle cx="376.3" cy="253.7" r="1.65" fill="#008bfb"/>
<circle cx="378.5" cy="254.3" r="1.65" fill="#007cf5"/>
<circle cx="381.2" cy="254.1" r="1.65" fill="#008bfb"/>
<circle cx="383.3" cy="253.8" r="1.65" fill="#0075f0"/>
<circle cx="386.0" cy="253.6" r="1.65" fill="#008bfb"/>
<circle cx="388.2" cy="254.4" r="1.65" fill="#008bfb"/>
<circle cx="390.4" cy="254.5" r="1.65" fill="#007cf5"/>
<circle cx="393.4" cy="248.2" r="1.65" fill="#008bfb"/>
<circle cx="393.4" cy="250.6" r="1.65" fill="#008bfb"/>
<circle cx="393.4" cy="252.8" r="1.65" fill="#008bfb"/>
<circle cx="393.4" cy="255.2" r="1.65" fill="#008bfb"/>
<circle cx="393.4" cy="257.4" r="1.65" fill="#008bfb"/>
<circle cx="393.4" cy="259.8" r="1.65" fill="#008bfb"/>
<circle cx="393.4" cy="259.8" r="1.65" fill="#635adb"/>
<circle cx="251.4" cy="272.2" r="1.65" fill="#ff0051"/>
<circle cx="258.0" cy="272.2" r="1.65" fill="#bb00a0"/>
<circle cx="263.6" cy="272.2" r="1.65" fill="#ff0051"/>
<circle cx="266.0" cy="272.2" r="1.65" fill="#f90067"/>
<circle cx="267.7" cy="272.2" r="1.65" fill="#d5008f"/>
<circle cx="273.3" cy="272.2" r="1.65" fill="#9135ba"/>
<circle cx="275.0" cy="272.2" r="1.65" fill="#d5008f"/>
<circle cx="277.2" cy="272.2" r="1.65" fill="#9135ba"/>
<circle cx="283.1" cy="272.2" r="1.65" fill="#ac16a7"/>
<circle cx="293.3" cy="271.7" r="1.65" fill="#ff0051"/>
<circle cx="298.0" cy="272.2" r="1.65" fill="#ff0051"/>
<circle cx="374.5" cy="272.2" r="1.65" fill="#008bfb"/>
<circle cx="376.5" cy="272.2" r="1.65" fill="#008bfb"/>
<circle cx="378.5" cy="272.2" r="1.65" fill="#008bfb"/>
<circle cx="380.5" cy="272.2" r="1.65" fill="#008bfb"/>
<circle cx="382.3" cy="269.9" r="1.65" fill="#008bfb"/>
<circle cx="382.3" cy="272.2" r="1.65" fill="#008bfb"/>
<circle cx="382.3" cy="274.5" r="1.65" fill="#008bfb"/>
<circle cx="384.0" cy="267.6" r="1.65" fill="#008bfb"/>
<circle cx="384.0" cy="269.9" r="1.65" fill="#008bfb"/>
<circle cx="384.0" cy="272.2" r="1.65" fill="#008bfb"/>
<circle cx="384.0" cy="274.5" r="1.65" fill="#008bfb"/>
<circle cx="384.0" cy="276.8" r="1.65" fill="#008bfb"/>
<circle cx="385.6" cy="266.4" r="1.65" fill="#008bfb"/>
<circle cx="385.6" cy="268.8" r="1.65" fill="#008bfb"/>
<circle cx="385.6" cy="271.1" r="1.65" fill="#008bfb"/>
<circle cx="385.6" cy="273.3" r="1.65" fill="#008bfb"/>
<circle cx="385.6" cy="275.6" r="1.65" fill="#008bfb"/>
<circle cx="385.6" cy="277.9" r="1.65" fill="#008bfb"/>
<circle cx="387.2" cy="267.6" r="1.65" fill="#008bfb"/>
<circle cx="387.2" cy="269.9" r="1.65" fill="#008bfb"/>
<circle cx="387.2" cy="272.2" r="1.65" fill="#008bfb"/>
<circle cx="387.2" cy="274.5" r="1.65" fill="#008bfb"/>
<circle cx="387.2" cy="276.8" r="1.65" fill="#008bfb"/>
<circle cx="389.0" cy="269.9" r="1.65" fill="#008bfb"/>
<circle cx="389.0" cy="272.2" r="1.65" fill="#008bfb"/>
<circle cx="389.0" cy="274.5" r="1.65" fill="#008bfb"/>
<circle cx="390.8" cy="272.2" r="1.65" fill="#008bfb"/>
<circle cx="383.9" cy="272.5" r="1.65" fill="#d5008f"/>
<circle cx="385.6" cy="268.2" r="1.65" fill="#754fd1"/>
<circle cx="385.6" cy="276.6" r="1.65" fill="#635adb"/>
<circle cx="360.0" cy="290.3" r="1.65" fill="#ff0051"/>
<circle cx="368.9" cy="289.4" r="1.65" fill="#f20072"/>
<circle cx="368.9" cy="291.2" r="1.65" fill="#9b24ad"/>
<circle cx="371.6" cy="284.6" r="1.65" fill="#008bfb"/>
<circle cx="371.6" cy="286.9" r="1.65" fill="#008bfb"/>
<circle cx="371.6" cy="289.2" r="1.65" fill="#008bfb"/>
<circle cx="371.6" cy="291.4" r="1.65" fill="#008bfb"/>
<circle cx="371.6" cy="293.8" r="1.65" fill="#008bfb"/>
<circle cx="371.6" cy="296.1" r="1.65" fill="#008bfb"/>
<circle cx="372.6" cy="285.7" r="1.65" fill="#008bfb"/>
<circle cx="372.6" cy="288.0" r="1.65" fill="#008bfb"/>
<circle cx="372.6" cy="290.3" r="1.65" fill="#008bfb"/>
<circle cx="372.6" cy="292.6" r="1.65" fill="#008bfb"/>
<circle cx="372.6" cy="294.9" r="1.65" fill="#008bfb"/>
<circle cx="372.0" cy="291.8" r="1.65" fill="#635adb"/>
<circle cx="389.8" cy="290.3" r="1.65" fill="#635adb"/>
</svg></body></html>
